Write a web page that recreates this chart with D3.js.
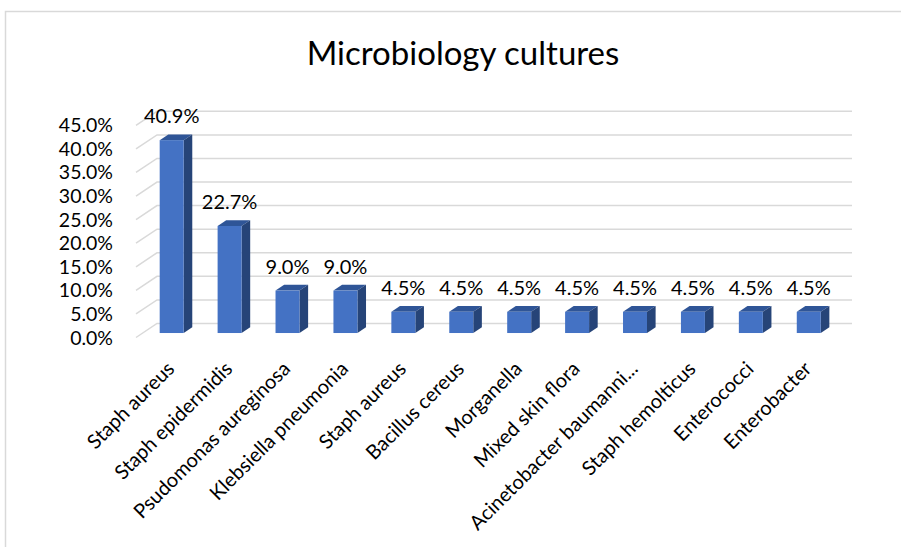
<!DOCTYPE html>
<html>
<head>
<meta charset="utf-8">
<script src="https://cdn.jsdelivr.net/npm/d3@7"></script>
<style>
  html, body { margin: 0; padding: 0; background: #ffffff; }
  svg { display: block; }
</style>
</head>
<body>
<svg id="chart" width="901" height="547"></svg>
<script>
// ---- data ----
const categories = [
  "Staph aureus", "Staph epidermidis", "Psudomonas aureginosa", "Klebsiella pneumonia",
  "Staph aureus", "Bacillus cereus", "Morganella", "Mixed skin flora",
  "Acinetobacter baumanni...", "Staph hemolticus", "Enterococci", "Enterobacter"
];
const values = [40.9, 22.7, 9.0, 9.0, 4.5, 4.5, 4.5, 4.5, 4.5, 4.5, 4.5, 4.5];
const yTicks = [0, 5, 10, 15, 20, 25, 30, 35, 40, 45];
const title = "Microbiology cultures";

// ---- layout ----
const FONT = "Lato, 'Open Sans', sans-serif";
const wallLeft = 157, wallRight = 852;
const wallBottom = 323.5, wallTop = 111.3;
const DX = 21, DY = 14;          // depth offset (front relative to back)
const zBack = 0.27, zFront = 0.68; // bar depth span (0 = back wall, 1 = front edge)

const svg = d3.select("#chart");

// chart area border
svg.append("rect")
  .attr("x", 5.5).attr("y", 11.5)
  .attr("width", 1000).attr("height", 1000)
  .attr("fill", "#fff")
  .attr("stroke", "#D9D9D9").attr("stroke-width", 1.5);

const x = d3.scaleBand().domain(d3.range(categories.length)).range([wallLeft, wallRight]).padding(0);
const y = d3.scaleLinear().domain([0, 45]).range([wallBottom, wallTop]);

// projection: back-wall coords (bx, by) at depth z
const P = (bx, by, z) => [bx - z * DX, by + z * DY];

// gridlines on back wall + side wall diagonals
const grid = svg.append("g");
yTicks.forEach(t => {
  const yb = y(t);
  const f = P(wallLeft, yb, 1);
  grid.append("path")
    .attr("d", `M${f[0]},${f[1]} L${wallLeft},${yb} L${wallRight},${yb}`)
    .attr("fill", "none")
    .attr("stroke", "#D9D9D9").attr("stroke-width", 1.5);
});

// y axis labels
svg.append("g").selectAll("text").data(yTicks).join("text")
  .attr("x", 113)
  .attr("y", d => P(wallLeft, y(d), 1)[1])
  .attr("dy", "0.36em")
  .attr("text-anchor", "end")
  .attr("font-family", FONT).attr("font-size", 19.5).attr("fill", "#000")
  .text(d => d.toFixed(1) + "%");

// bars
const barW = x.bandwidth() * 0.414;
const bars = svg.append("g");
values.forEach((v, i) => {
  const cx = x(i) + x.bandwidth() / 2;
  const l = cx - barW / 2, r = cx + barW / 2;
  const yt = y(v), y0 = y(0);
  const pts = (arr) => arr.map(p => p.join(",")).join(" ");
  // top face
  bars.append("polygon")
    .attr("points", pts([P(l, yt, zFront), P(r, yt, zFront), P(r, yt, zBack), P(l, yt, zBack)]))
    .attr("fill", "#2F5597");
  // right side face
  bars.append("polygon")
    .attr("points", pts([P(r, yt, zFront), P(r, yt, zBack), P(r, y0, zBack), P(r, y0, zFront)]))
    .attr("fill", "#264478");
  // front face
  const fl = P(l, yt, zFront), fr = P(r, y0, zFront);
  bars.append("rect")
    .attr("x", fl[0]).attr("y", fl[1])
    .attr("width", fr[0] - fl[0]).attr("height", fr[1] - fl[1])
    .attr("fill", "#4472C4");
  // data label
  svg.append("text")
    .attr("x", P(cx, yt, zFront)[0])
    .attr("y", P(cx, yt, zFront)[1] - 17)
    .attr("text-anchor", "middle")
    .attr("font-family", FONT).attr("font-size", 20).attr("fill", "#000")
    .text(v.toFixed(1) + "%");
});

// category labels
svg.append("g").selectAll("text").data(categories).join("text")
  .attr("transform", (d, i) => {
    const cx = P(x(i) + x.bandwidth() / 2, 0, zFront)[0];
    return `translate(${cx + 4},370) rotate(-45)`;
  })
  .attr("text-anchor", "end")
  .attr("font-family", FONT).attr("font-size", 20).attr("fill", "#000")
  .text(d => d);

// title
svg.append("text")
  .attr("x", 463).attr("y", 65)
  .attr("text-anchor", "middle")
  .attr("font-family", FONT).attr("font-size", 33).attr("fill", "#000")
  .text(title);
</script>
</body>
</html>
